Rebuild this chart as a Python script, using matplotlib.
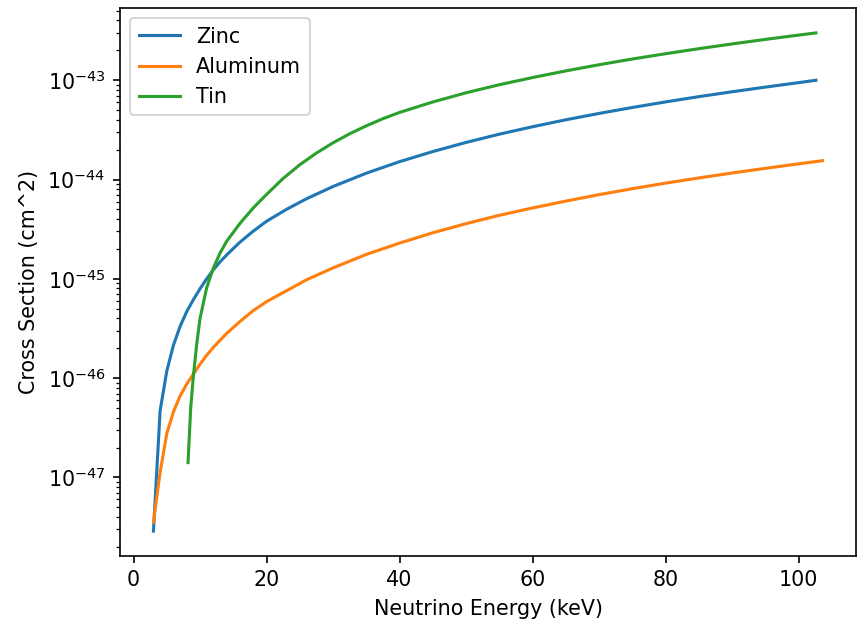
import matplotlib
matplotlib.use('Agg')
import matplotlib.pyplot as plt

# values (energy in keV, cross section in cm^2)
zinc_e = [3, 4, 5, 6, 7, 8, 9, 10, 11, 12, 13, 14, 16, 18, 20, 23, 26, 30, 35, 40, 45,
          50, 55, 60, 65, 70, 75, 80, 85, 90, 95, 100, 102.6]
zinc_xs = [2.88e-48, 4.68e-47, 1.175e-46, 2.14e-46, 3.31e-46, 4.68e-46, 6.17e-46, 7.94e-46,
           1.0e-45, 1.23e-45, 1.48e-45, 1.74e-45, 2.34e-45, 3.02e-45, 3.80e-45, 5.01e-45,
           6.40e-45, 8.51e-45, 1.159e-44, 1.514e-44, 1.914e-44, 2.366e-44, 2.864e-44,
           3.404e-44, 4.0e-44, 4.634e-44, 5.321e-44, 6.053e-44, 6.839e-44, 7.66e-44,
           8.531e-44, 9.462e-44, 1.0e-43]

al_e = [3, 4, 5, 6, 7, 8, 9, 10, 11, 12, 14, 16, 18, 20, 23, 26, 30, 35, 40, 45,
        50, 55, 60, 65, 70, 75, 80, 85, 90, 95, 100, 103.6]
al_xs = [3.55e-48, 1.122e-47, 2.754e-47, 4.571e-47, 6.607e-47, 8.71e-47, 1.096e-46,
         1.380e-46, 1.698e-46, 2.042e-46, 2.818e-46, 3.715e-46, 4.786e-46, 5.888e-46,
         7.586e-46, 9.772e-46, 1.288e-45, 1.762e-45, 2.291e-45, 2.911e-45, 3.597e-45,
         4.365e-45, 5.176e-45, 6.067e-45, 7.047e-45, 8.091e-45, 9.204e-45, 1.038e-44,
         1.164e-44, 1.297e-44, 1.439e-44, 1.549e-44]

tin_e = [8.2, 8.6, 9, 9.5, 10, 11, 12, 13, 14, 16, 18, 20, 22.5, 25, 27.5, 30, 32.5,
         35, 37.5, 40, 45, 50, 55, 60, 65, 70, 75, 80, 85, 90, 95, 100, 102.6]
tin_xs = [1.41e-47, 5.01e-47, 1.047e-46, 2.19e-46, 3.98e-46, 8.13e-46, 1.282e-45,
          1.811e-45, 2.388e-45, 3.614e-45, 5.176e-45, 7.08e-45, 1.026e-44, 1.409e-44,
          1.849e-44, 2.344e-44, 2.891e-44, 3.475e-44, 4.102e-44, 4.742e-44, 6.045e-44,
          7.482e-44, 9.016e-44, 1.065e-43, 1.243e-43, 1.434e-43, 1.637e-43, 1.851e-43,
          2.080e-43, 2.323e-43, 2.580e-43, 2.851e-43, 2.999e-43]

dpi = 148.4
fig = plt.figure(figsize=(861 / dpi, 621 / dpi), dpi=dpi)
ax = fig.add_axes([120 / 861, 65 / 621, 736 / 861, 548 / 621])

ax.plot(zinc_e, zinc_xs, label='Zinc')
ax.plot(al_e, al_xs, label='Aluminum')
ax.plot(tin_e, tin_xs, label='Tin')
ax.set_yscale('log')
ax.set_xlabel('Neutrino Energy (keV)')
ax.set_ylabel('Cross Section (cm^2)')
ax.legend(loc='upper left')

fig.savefig('out.png', dpi=dpi)
